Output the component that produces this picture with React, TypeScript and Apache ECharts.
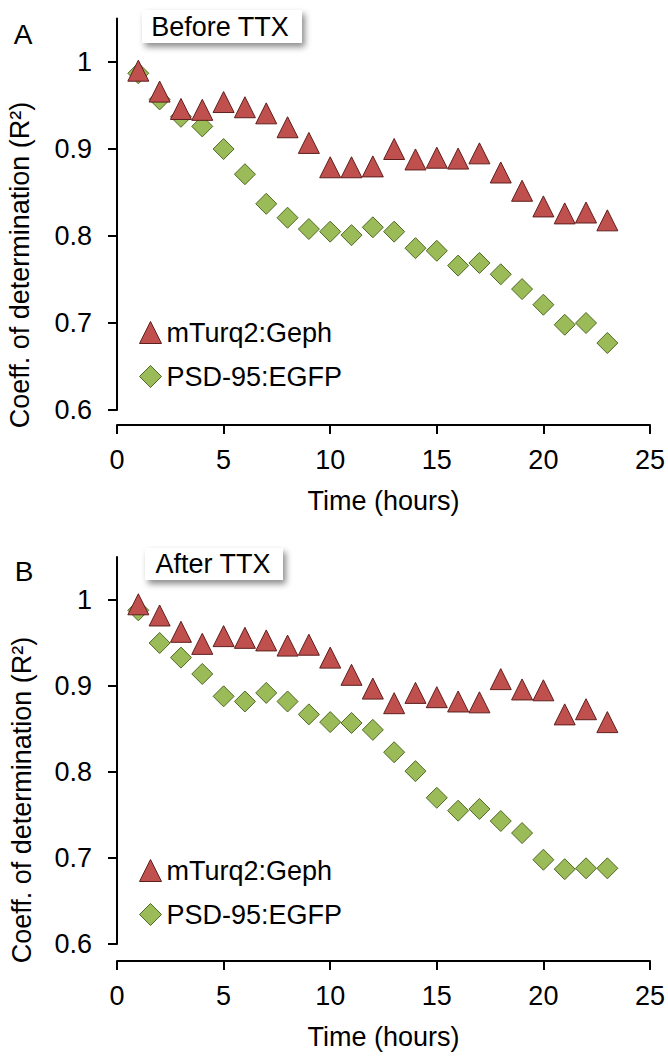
import React, { useEffect, useRef } from "react";
import * as echarts from "echarts";

const FONT = '"Liberation Sans", Arial, Helvetica, sans-serif';

const hours = [1, 2, 3, 4, 5, 6, 7, 8, 9, 10, 11, 12, 13, 14, 15, 16, 17, 18, 19, 20, 21, 22, 23];
const gephBefore = [0.990, 0.966, 0.946, 0.945, 0.954, 0.948, 0.941, 0.925, 0.907, 0.879, 0.879, 0.880, 0.900, 0.888, 0.890, 0.889, 0.895, 0.873, 0.852, 0.834, 0.826, 0.827, 0.818];
const psdBefore = [0.987, 0.957, 0.937, 0.926, 0.900, 0.871, 0.837, 0.821, 0.808, 0.805, 0.801, 0.810, 0.805, 0.786, 0.783, 0.766, 0.769, 0.756, 0.739, 0.721, 0.698, 0.700, 0.677];
const gephAfter = [0.995, 0.982, 0.963, 0.949, 0.958, 0.956, 0.953, 0.947, 0.948, 0.933, 0.913, 0.897, 0.880, 0.892, 0.887, 0.882, 0.881, 0.908, 0.896, 0.895, 0.867, 0.873, 0.858];
const psdAfter = [0.988, 0.950, 0.933, 0.914, 0.888, 0.882, 0.892, 0.882, 0.867, 0.858, 0.857, 0.849, 0.823, 0.801, 0.770, 0.755, 0.757, 0.743, 0.729, 0.698, 0.687, 0.688, 0.688];

const xTicks = [0, 5, 10, 15, 20, 25];
const yTicks = [0.6, 0.7, 0.8, 0.9, 1];
const seriesNames = ["mTurq2:Geph", "PSD-95:EGFP"];
const panelTitles = ["Before TTX", "After TTX"];
const panelLetters = ["A", "B"];
const xTitle = "Time (hours)";
const yTitle = "Coeff. of determination (R²)";

const RED = "#C0504D";
const RED_BORDER = "#5e1f1d";
const GREEN = "#9BBB59";
const GREEN_BORDER = "#4f6a24";

function pairs(xs: number[], ys: number[]) {
  return xs.map((x, i) => [x, ys[i]]);
}

export default function App() {
  const ref = useRef<HTMLDivElement>(null);
  useEffect(() => {
    document.body.style.margin = "0";
    const chart = echarts.init(ref.current!, null, { renderer: "svg" });
    const axisLineStyle = { color: "#000", width: 2 };
    const textBase = { fontFamily: FONT, fontSize: 27, color: "#000" };
    const mkX = (gridIndex: number, offset: number) => ({
      type: "value",
      gridIndex,
      min: xTicks[0],
      max: xTicks[xTicks.length - 1],
      interval: 5,
      offset,
      axisLine: { show: true, onZero: false, lineStyle: axisLineStyle },
      axisTick: { show: true, inside: false, length: 9, lineStyle: axisLineStyle },
      axisLabel: { ...textBase, margin: 21 },
      splitLine: { show: false },
      name: xTitle,
      nameLocation: "middle",
      nameGap: 62,
      nameTextStyle: textBase,
    });
    const mkY = (gridIndex: number) => ({
      type: "value",
      gridIndex,
      min: 0.6,
      max: 1.05,
      axisLine: { show: true, onZero: false, lineStyle: axisLineStyle },
      axisTick: { show: true, inside: false, length: 9, lineStyle: axisLineStyle, customValues: yTicks },
      axisLabel: {
        ...textBase,
        margin: 25,
        customValues: yTicks,
        formatter: (v: number) => (Math.abs(v - 1) < 1e-9 ? "1" : v.toFixed(1)),
      },
      splitLine: { show: false },
    });
    const triStyle = { color: RED, borderColor: RED_BORDER, borderWidth: 1, opacity: 1 };
    const diaStyle = { color: GREEN, borderColor: GREEN_BORDER, borderWidth: 1, opacity: 1 };
    const mkSeries = (idx: number, geph: number[], psd: number[]) => [
      {
        type: "scatter",
        name: seriesNames[1],
        xAxisIndex: idx,
        yAxisIndex: idx,
        symbol: "diamond",
        symbolSize: 21,
        itemStyle: diaStyle,
        data: pairs(hours, psd),
      },
      {
        type: "scatter",
        name: seriesNames[0],
        xAxisIndex: idx,
        yAxisIndex: idx,
        symbol: "triangle",
        symbolSize: 21,
        itemStyle: triStyle,
        data: pairs(hours, geph),
      },
    ];
    const mkLegend = (top: number) => ({
      orient: "vertical",
      left: 134,
      top,
      itemWidth: 22,
      itemHeight: 22,
      itemGap: 17,
      selectedMode: false,
      textStyle: { ...textBase, padding: [0, 0, 0, 0] },
      data: [
        { name: seriesNames[0], icon: "triangle", itemStyle: triStyle },
        { name: seriesNames[1], icon: "diamond", itemStyle: diaStyle },
      ],
    });
    const mkBox = (x: number, y: number, w: number, h: number, label: string, cx: number, cy: number) => [
      {
        type: "rect",
        shape: { x, y, width: w, height: h },
        style: {
          fill: "#fff",
          shadowBlur: 6,
          shadowOffsetX: 3,
          shadowOffsetY: 4,
          shadowColor: "rgba(0,0,0,0.45)",
        },
        z: 10,
      },
      {
        type: "text",
        x: cx,
        y: cy,
        style: { text: label, font: `27px ${FONT}`, fill: "#000", align: "center", verticalAlign: "middle" },
        z: 11,
      },
    ];
    const mkLetter = (label: string, cx: number, cy: number) => ({
      type: "text",
      x: cx,
      y: cy,
      style: { text: label, font: `28px ${FONT}`, fill: "#000", align: "center", verticalAlign: "middle" },
    });
    const mkYTitle = (cx: number, cy: number) => ({
      type: "text",
      x: cx,
      y: cy,
      rotation: Math.PI / 2,
      style: { text: yTitle, font: `27px ${FONT}`, fill: "#000", align: "center", verticalAlign: "middle" },
    });

    chart.setOption({
      animation: false,
      backgroundColor: "#fff",
      grid: [
        { left: 117, top: 18.5, width: 533, height: 391.5 },
        { left: 117, top: 557, width: 533, height: 387 },
      ],
      xAxis: [mkX(0, 15), mkX(1, 17)],
      yAxis: [mkY(0), mkY(1)],
      legend: [mkLegend(314), mkLegend(852)],
      series: [...mkSeries(0, gephBefore, psdBefore), ...mkSeries(1, gephAfter, psdAfter)],
      graphic: [
        ...mkBox(142, 10, 160, 33, panelTitles[0], 220, 27),
        ...mkBox(145, 548, 138, 32, panelTitles[1], 213, 564),
        mkLetter(panelLetters[0], 23, 34),
        mkLetter(panelLetters[1], 24, 571),
        mkYTitle(20, 265),
        mkYTitle(22, 800),
      ],
    });
    return () => chart.dispose();
  }, []);
  return <div ref={ref} style={{ width: 668, height: 1057 }} />;
}
